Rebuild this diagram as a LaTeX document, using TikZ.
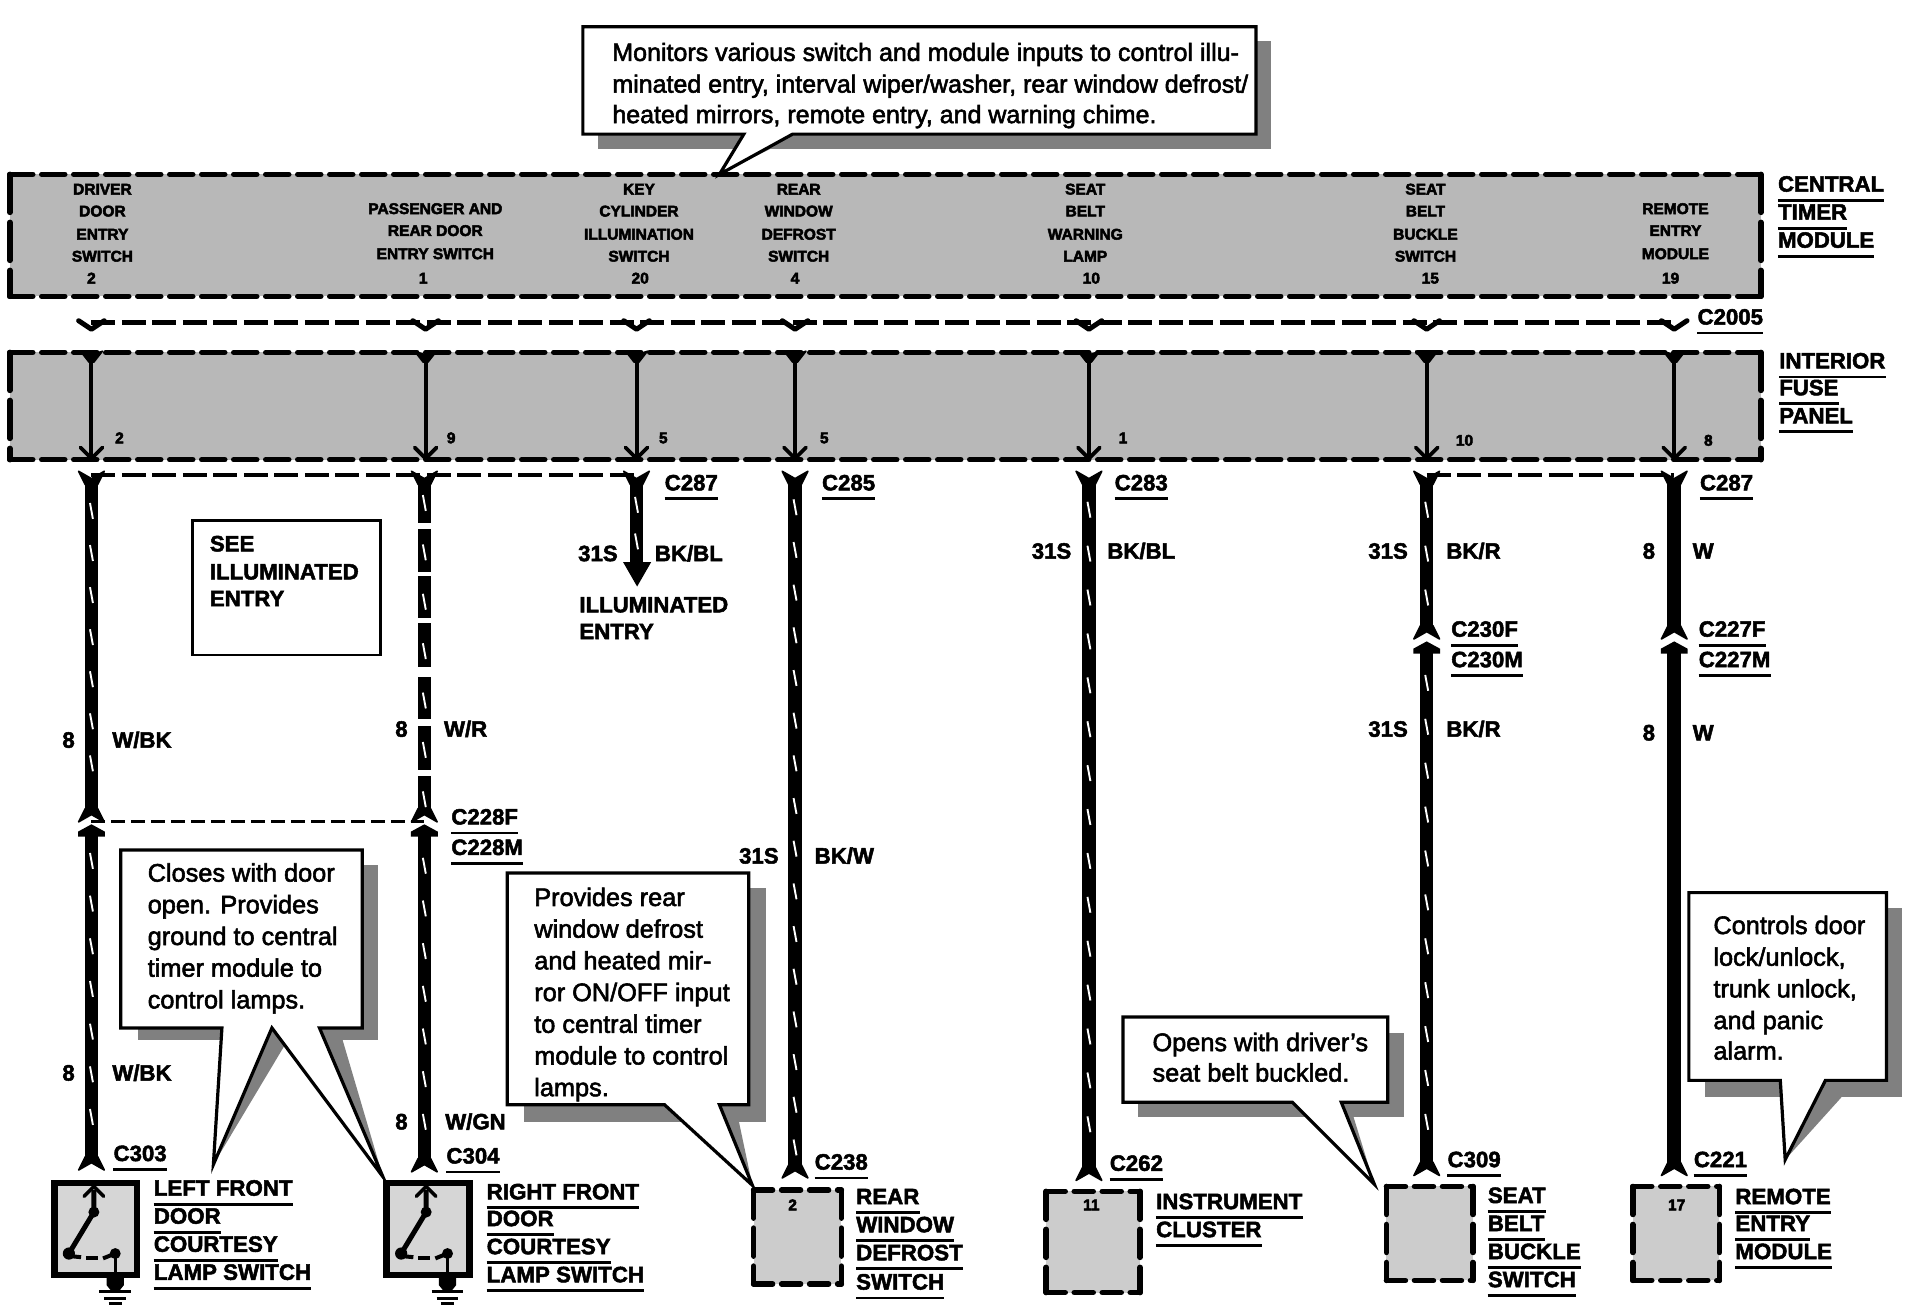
\documentclass[tikz,border=0pt]{standalone}
\usepackage{fontspec}
\setmainfont{Liberation Sans}
\newcommand\hv[2]{\special{pdf:code 2 Tr #1 w}#2\special{pdf:code 0 Tr 0.4 w}}
\newcounter{nn}
\tikzset{
  x=1.2194pt,y=-1.2194pt,
  wire/.style={line width=13.5pt,black},
  tickmark/.style={line width=1.9pt,white},
  thinwire/.style={line width=4pt,black},
  fork/.style={line width=5pt,black,line join=round,line cap=round},
  funnel/.style={fill=black,draw=black,line width=1.6pt,line join=round},
  dashrow/.style={line width=4.5pt,black,dash pattern=on 24pt off 6.5pt},
  thindash/.style={line width=3pt,black,dash pattern=on 14pt off 6pt},
  boxline/.style={line width=5.5pt,black,line cap=round},
  graybox/.style={fill=black!28},
  graybox2/.style={fill=black!20},
  shadow/.style={fill=black!50},
  calloutbody/.style={fill=white,draw=black,line width=3.2pt,line join=miter,miter limit=30},
  ulrule/.style={line width=2.8pt,black},
  lbl/.style={inner sep=0pt,font=\bfseries\fontsize{22.2}{22.2}\selectfont},
  lblb/.style={inner sep=0pt,font=\bfseries\fontsize{22.3}{22.3}\selectfont},
  small/.style={inner sep=0pt,font=\bfseries\fontsize{15.5}{15.5}\selectfont},
  ctext/.style={inner sep=0pt,anchor=base west,font=\fontsize{25.3}{25.3}\selectfont},
  ctextwide/.style={inner sep=0pt,anchor=base west,font=\fontsize{25}{25}\selectfont},
}
\newcommand\tl[3]{\stepcounter{nn}\node[lbl,anchor=base west,yshift=-7.5pt] (t\thenn) at (#1,#2) {\hv{0.5}{#3}};}
\newcommand\ul[3]{\stepcounter{nn}\node[lbl,anchor=base west,yshift=-7.5pt] (t\thenn) at (#1,#2) {\hv{0.5}{#3}};
  \draw[ulrule] ([yshift=-8.5pt]t\thenn.base west) -- ([yshift=-8.5pt]t\thenn.base east);}
\newcommand\ub[3]{\stepcounter{nn}\node[lblb,anchor=base west,yshift=-8pt] (t\thenn) at (#1,#2) {\hv{0.5}{#3}};
  \draw[ulrule] ([yshift=-8.5pt]t\thenn.base west) -- ([yshift=-8.5pt]t\thenn.base east);}
\newcommand\st[3]{\stepcounter{nn}\node[small,anchor=base,yshift=-5.5pt] (t\thenn) at (#1,#2) {\hv{0.5}{#3}};}
\newcommand\ct[3]{\stepcounter{nn}\node[ctext,yshift=-8.5pt] (t\thenn) at (#1,#2) {\hv{0.55}{#3}};}
\newcommand\ctw[3]{\stepcounter{nn}\node[ctextwide,yshift=-8.5pt] (t\thenn) at (#1,#2) {\hv{0.55}{#3}};}
% dashed gray box: x1 y1 x2 y2 hperiod vperiod (px) fillstyle
\newcommand\dbox[7]{%
  \fill[#7] (#1,#2) rectangle (#3,#4);
  \pgfmathsetmacro\hon{#5-9}\pgfmathsetmacro\hoff{9}
  \pgfmathsetmacro\von{#6-10}\pgfmathsetmacro\voff{10}
  \draw[boxline,dash pattern=on \hon pt off \hoff pt] (#1,#2) -- (#3,#2);
  \draw[boxline,dash pattern=on \hon pt off \hoff pt] (#1,#4) -- (#3,#4);
  \draw[boxline,dash pattern=on \von pt off \voff pt] (#1,#2) -- (#1,#4);
  \draw[boxline,dash pattern=on \von pt off \voff pt] (#3,#2) -- (#3,#4);
}
% striped wire: name x y1 y2 first-tick step
\newcommand\wirerun[6]{%
  \coordinate (#1a) at (#2,#3); \coordinate (#1b) at (#2,#4);
  \draw[wire] (#1a) -- (#1b);
  \foreach \t in {0,...,24}{%
    \pgfmathsetmacro\yy{#5+\t*#6}
    \pgfmathparse{\yy<#4-8 ? 1:0}
    \ifnum\pgfmathresult=1
      \draw[tickmark] (#2-1.2,\yy-6.5) -- (#2+1.2,\yy+6.5);
    \fi}
}
% wire flaring out at its upper end (arm tips at y=#2)
\newcommand\funneltop[2]{\draw[funnel] (#1-10.5,#2) -- (#1,#2+6) -- (#1+10.5,#2) -- (#1+5,#2+11) -- (#1-5,#2+11) -- cycle;}
% wire flaring out at its lower end (arm tips at y=#2)
\newcommand\funnelbot[2]{\draw[funnel] (#1-10.5,#2) -- (#1,#2-6) -- (#1+10.5,#2) -- (#1+5,#2-11) -- (#1-5,#2-11) -- cycle;}
\newcommand\chev[2]{\draw[fork,line width=3.8pt] (#1-9,#2-9) -- (#1,#2) -- (#1+9,#2-9);}
\newcommand\splice[2]{%
  \funnelbot{#1}{#2}
  \fill[black] (#1-11,#2+12) -- (#1-11,#2+8) -- (#1,#2+2) -- (#1+11,#2+8) -- (#1+11,#2+12) -- cycle;
}
\newcommand\doorswitch[1]{%
  \pgfmathsetmacro\xl{#1}\pgfmathsetmacro\xr{#1+68}
  \pgfmathsetmacro\xa{#1+32.5}\pgfmathsetmacro\xg{#1+12}\pgfmathsetmacro\xm{#1+50}
  \fill[black!16] (\xl,970) rectangle (\xr,1045.5);
  \draw[line width=6.5pt,black] (\xl,970) rectangle (\xr,1045.5);
  \draw[line width=5pt,black] (\xa,976) -- (\xa,994) -- (\xg,1028);
  \draw[line width=3.6pt,black,line cap=round] (\xa-8,981) -- (\xa,973) -- (\xa+8,981);
  \fill[black] (\xa,994) circle (4.5);
  \fill[black] (\xg,1028) circle (5);
  \draw[line width=4pt,black] (\xg,1030) -- (\xg+10,1031);
  \draw[line width=4pt,black] (\xg+14,1032) -- (\xg+24,1032);
  \draw[line width=4pt,black] (\xg+28,1032) -- (\xm,1028);
  \fill[black] (\xm,1028) circle (4.5);
  \draw[line width=3.2pt,black] (\xm,1028) -- (\xm,1046);
  \fill[black] (\xm-7,1048) -- (\xm+7,1048) -- (\xm+7,1054) -- (\xm+3,1059) -- (\xm-3,1059) -- (\xm-7,1054) -- cycle;
  \draw[line width=3pt,black] (\xm-13,1059.5) -- (\xm+13,1059.5);
  \draw[line width=3pt,black] (\xm-9,1064.5) -- (\xm+9,1064.5);
  \draw[line width=3pt,black] (\xm-5.5,1069) -- (\xm+5.5,1069);
}
\begin{document}
\begin{tikzpicture}
\useasboundingbox (0,0) rectangle (1568,1076);
\fill[white] (0,0) rectangle (1568,1076);

% --- main panels
\dbox{8}{143}{1444}{243}{32}{48}{graybox}
\dbox{8}{289}{1444}{377}{32}{48}{graybox}

% callout: top
\fill[shadow] (490,34) rectangle (1042,122);
\fill[shadow] (650,110) -- (590,143) -- (632,122) -- cycle;
\draw[calloutbody] (478,22) -- (1030,22) -- (1030,110) -- (650,110) -- (590,143) -- (610,110) -- (478,110) -- cycle;
\ctw{502}{43}{Monitors various switch and module inputs to control illu-}
\ctw{502}{69}{minated entry, interval wiper/washer, rear window defrost/}
\ctw{502}{94}{heated mirrors, remote entry, and warning chime.}

% labels in central timer module
\foreach \xx/\aa/\bb/\cc/\dd in {84/DRIVER/DOOR/ENTRY/SWITCH,524/KEY/CYLINDER/ILLUMINATION/SWITCH,655/REAR/WINDOW/DEFROST/SWITCH,890/SEAT/BELT/WARNING/LAMP,1169/SEAT/BELT/BUCKLE/SWITCH}{
  \st{\xx}{155}{\aa}\st{\xx}{173}{\bb}\st{\xx}{192}{\cc}\st{\xx}{210}{\dd}}
\st{357}{171}{PASSENGER AND}\st{357}{189}{REAR DOOR}\st{357}{208}{ENTRY SWITCH}
\st{1374}{171}{REMOTE}\st{1374}{189}{ENTRY}\st{1374}{208}{MODULE}
\st{75}{228}{2}\st{347}{228}{1}\st{525}{228}{20}\st{652}{228}{4}\st{895}{228}{10}\st{1173}{228}{15}\st{1370}{228}{19}

% module names
\ul{1458}{151}{CENTRAL}\ul{1458}{174}{TIMER}\ul{1458}{197}{MODULE}
\ul{1392}{260}{C2005}
\ul{1459}{296}{INTERIOR}\ul{1459}{318}{FUSE}\ul{1459}{341}{PANEL}

% connector rows
\coordinate (rowAa) at (75,264.5); \coordinate (rowAb) at (1373,264.5);
\draw[dashrow] (rowAa) -- (rowAb);
\coordinate (rowBa) at (75,389.5); \coordinate (rowBb) at (522,389.5);
\draw[dashrow] (rowBa) -- (rowBb);
\coordinate (rowCa) at (1170,389.5); \coordinate (rowCb) at (1373,389.5);
\draw[dashrow] (rowCa) -- (rowCb);
\foreach \xx in {75,349,522,652,893,1170,1373}{
  \draw[fork] (\xx-10.5,263) -- (\xx,270) -- (\xx+10.5,263);
  \draw[thinwire] (\xx,291) -- (\xx,375);
  \draw[funnel,line width=1.5pt] (\xx-9,288) -- (\xx,291) -- (\xx+9,288) -- (\xx+2,297) -- (\xx-2,297) -- cycle;
  \chev{\xx}{376}
}
\st{98}{359}{2}\st{370}{359}{9}\st{544}{359}{5}\st{676}{359}{5}\st{921}{359}{1}\st{1201}{361}{10}\st{1401}{361}{8}

% wires
\wirerun{w1u}{75}{396}{664}{419}{34.5}
\wirerun{w1l}{75}{684}{950}{706}{35}
\wirerun{w2u}{348}{396}{664}{412.5}{40.5}
\wirerun{w2l}{348}{684}{952}{710}{35}
\wirerun{w3}{522}{396}{464}{414}{30}
\wirerun{w4}{652}{396}{957}{416}{35}
\wirerun{w5}{893}{396}{959}{418}{36}
\wirerun{w6u}{1170}{396}{514}{418}{36}
\wirerun{w6l}{1170}{534}{955}{560}{36}
\wirerun{w7u}{1373}{396}{514}{2000}{10}
\wirerun{w7l}{1373}{534}{955}{2000}{10}
% passenger wire breaks
\foreach \yy/\hh in {431/2.5,470.5/1.5,509/2,551/4,592.5/3,634/2.5}{\fill[white] (340,\yy-\hh) rectangle (356,\yy+\hh);}
% flares at the row
\foreach \xx in {75,348,522,652,893,1170,1373}{\funneltop{\xx}{386.5}}
% arrow into "illuminated entry"
\fill[black] (511,461) -- (534,461) -- (522.5,481) -- cycle;
% splices
\coordinate (spa) at (75,674); \coordinate (spb) at (348,674);
\draw[thindash] (spa) -- (spb);
\splice{75}{674}\splice{348}{674}
\splice{1170}{524}\splice{1373}{524}
% wire ends
\foreach \xx/\yy in {75/959.5,348/961,652/966,893/968,1170/964,1373/964}{\funnelbot{\xx}{\yy}}

% wire texts
\tl{474}{454}{31S}\tl{537}{454}{BK/BL}
\tl{475}{496}{ILLUMINATED}\tl{475}{518}{ENTRY}
\tl{846}{452}{31S}\tl{908}{452}{BK/BL}
\tl{1122}{452}{31S}\tl{1186}{452}{BK/R}
\tl{1122}{598}{31S}\tl{1186}{598}{BK/R}
\tl{1347}{452}{8}\tl{1388}{452}{W}
\tl{1347}{601}{8}\tl{1388}{601}{W}
\tl{51}{607}{8}\tl{92}{607}{W/BK}
\tl{324}{598}{8}\tl{364}{598}{W/R}
\tl{606}{702}{31S}\tl{668}{702}{BK/W}
\tl{51}{880}{8}\tl{92}{880}{W/BK}
\tl{324}{920}{8}\tl{365}{920}{W/GN}
\ul{545}{396}{C287}\ul{674}{396}{C285}\ul{914}{396}{C283}\ul{1394}{396}{C287}
\ul{1190}{516}{C230F}\ul{1190}{541}{C230M}
\ul{1393}{516}{C227F}\ul{1393}{541}{C227M}
\ul{370}{670}{C228F}\ul{370}{695}{C228M}
\ul{93}{946}{C303}\ul{366}{948}{C304}\ul{668}{953}{C238}\ul{910}{954}{C262}\ul{1187}{951}{C309}\ul{1389}{951}{C221}

% see illuminated entry
\draw[line width=2.6pt,black,fill=white] (158,427) rectangle (312,537);
\tl{172}{446}{SEE}\tl{172}{469}{ILLUMINATED}\tl{172}{491}{ENTRY}

% callout: closes with door
\fill[shadow] (113,709) rectangle (310,853);
\fill[shadow] (223,843) -- (175,955) -- (233,858) -- cycle;
\fill[shadow] (262,843) -- (314,965) -- (281,853) -- cycle;
\draw[calloutbody] (99,843) -- (182,843) -- (175,955) -- (223,843) -- (314,965) -- (262,843) -- (297,843) -- (297,697) -- (99,697) -- cycle;
\ct{121}{716}{Closes with door}\ct{121}{742}{open. Provides}\ct{121}{768}{ground to central}\ct{121}{794}{timer module to}\ct{121}{820}{control lamps.}

% callout: provides
\fill[shadow] (430,728) rectangle (628,920);
\fill[shadow] (590,906) -- (617,972) -- (606,920) -- cycle;
\draw[calloutbody] (416,906) -- (545,906) -- (617,972) -- (590,906) -- (614,906) -- (614,716) -- (416,716) -- cycle;
\ct{438}{736}{Provides rear}\ct{438}{762}{window defrost}\ct{438}{788}{and heated mir-}\ct{438}{814}{ror ON/OFF input}\ct{438}{840}{to central timer}\ct{438}{866}{module to control}\ct{438}{892}{lamps.}

% callout: opens
\fill[shadow] (933,847) rectangle (1151,916);
\fill[shadow] (1100,904) -- (1127,971) -- (1110,916) -- cycle;
\draw[calloutbody] (921,904) -- (1060,904) -- (1127,971) -- (1100,904) -- (1138,904) -- (1138,834) -- (921,834) -- cycle;
\ct{945}{855}{Opens with driver's}\ct{945}{880}{seat belt buckled.}

% callout: controls
\fill[shadow] (1398,745) rectangle (1560,900);
\fill[shadow] (1497,886) -- (1464,951) -- (1510,900) -- cycle;
\draw[calloutbody] (1385,886) -- (1460,886) -- (1464,951) -- (1497,886) -- (1547,886) -- (1547,732) -- (1385,732) -- cycle;
\ct{1405}{759}{Controls door}\ct{1405}{785}{lock/unlock,}\ct{1405}{811}{trunk unlock,}\ct{1405}{837}{and panic}\ct{1405}{862}{alarm.}

% switches
\doorswitch{44.5}\doorswitch{317}
\ub{126}{974}{LEFT FRONT}\ub{126}{997}{DOOR}\ub{126}{1020}{COURTESY}\ub{126}{1043}{LAMP SWITCH}
\ub{399}{977}{RIGHT FRONT}\ub{399}{999}{DOOR}\ub{399}{1022}{COURTESY}\ub{399}{1045}{LAMP SWITCH}

% components
\dbox{618}{976}{690}{1053}{28}{38}{graybox2}
\st{650}{988}{2}
\ub{702}{981}{REAR}\ub{702}{1004}{WINDOW}\ub{702}{1027}{DEFROST}\ub{702}{1051}{SWITCH}
\dbox{858}{977}{935}{1060}{28}{38}{graybox2}
\st{895}{988}{11}
\ub{948}{985}{INSTRUMENT}\ub{948}{1008}{CLUSTER}
\dbox{1137}{973}{1208}{1050}{28}{38}{graybox2}
\ub{1220}{980}{SEAT}\ub{1220}{1003}{BELT}\ub{1220}{1026}{BUCKLE}\ub{1220}{1049}{SWITCH}
\dbox{1339}{973}{1410}{1050}{28}{38}{graybox2}
\st{1375}{988}{17}
\ub{1423}{981}{REMOTE}\ub{1423}{1003}{ENTRY}\ub{1423}{1026}{MODULE}
\end{tikzpicture}
\end{document}
